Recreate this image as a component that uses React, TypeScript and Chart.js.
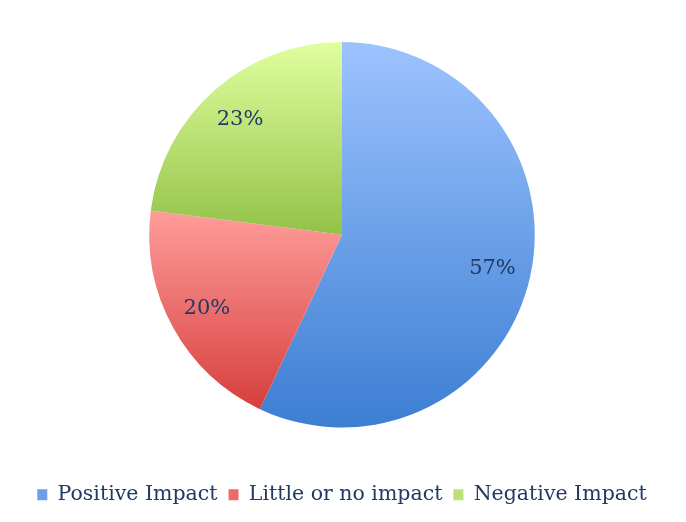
import React, { useEffect, useRef } from 'react';
import { Chart, ArcElement, PieController, Legend, Tooltip } from 'chart.js';

Chart.register(ArcElement, PieController, Legend, Tooltip);

const labels = ['Positive Impact', 'Little or no impact', 'Negative Impact'];
const values = [57, 20, 23];
// light (top) / dark (bottom) stops for each slice
const topColors = ['#9dc3ff', '#ff9d9b', '#e0ff9f'];
const bottomColors = ['#3c7ed2', '#d63f3d', '#93c248'];
const legendColors = ['#6d9ee6', '#ec6b69', '#bce176'];

const FONT = '"DejaVu Serif", "Liberation Serif", serif';
const TEXT = '#1f3a63';

// vertical gradient per slice, stretched over the slice's own height
const sliceGradients = {
    id: 'sliceGradients',
    beforeDatasetsDraw(chart: any) {
        const ctx = chart.ctx;
        chart.getDatasetMeta(0).data.forEach((arc: any, i: number) => {
            const { x, y, startAngle, endAngle, outerRadius } = arc.getProps(['x', 'y', 'startAngle', 'endAngle', 'outerRadius']);
            let top = y;
            let bottom = y;
            const check = (a: number) => {
                const py = y + outerRadius * Math.sin(a);
                top = Math.min(top, py);
                bottom = Math.max(bottom, py);
            };
            check(startAngle);
            check(endAngle);
            for (let k = -2; k <= 4; k++) {
                const a = -Math.PI / 2 + k * Math.PI;
                if (a > startAngle && a < endAngle) check(a);
            }
            const g = ctx.createLinearGradient(0, top, 0, bottom);
            g.addColorStop(0, topColors[i]);
            g.addColorStop(1, bottomColors[i]);
            arc.options.backgroundColor = g;
        });
    }
};

const sliceLabels = {
    id: 'sliceLabels',
    afterDatasetsDraw(chart: any) {
        const ctx = chart.ctx;
        const total = values.reduce((s, v) => s + v, 0);
        ctx.save();
        ctx.font = `21px ${FONT}`;
        ctx.fillStyle = TEXT;
        ctx.textAlign = 'center';
        ctx.textBaseline = 'middle';
        chart.getDatasetMeta(0).data.forEach((arc: any, i: number) => {
            const { x, y, startAngle, endAngle, outerRadius } = arc.getProps(['x', 'y', 'startAngle', 'endAngle', 'outerRadius']);
            const mid = (startAngle + endAngle) / 2;
            const r = outerRadius * 0.8;
            ctx.fillText(`${Math.round((values[i] / total) * 100)}%`, x + r * Math.cos(mid), y + r * Math.sin(mid));
        });
        ctx.restore();
    }
};

const App = () => {
    const chartRef = useRef<HTMLCanvasElement>(null);
    const chartInstance = useRef<Chart | null>(null);

    useEffect(() => {
        document.body.style.margin = '0';
        if (!chartRef.current) return;
        const ctx = chartRef.current.getContext('2d');
        if (!ctx) return;
        if (chartInstance.current) chartInstance.current.destroy();

        chartInstance.current = new Chart(ctx, {
            type: 'pie',
            data: {
                labels,
                datasets: [{
                    data: values,
                    backgroundColor: legendColors,
                    borderWidth: 0
                }]
            },
            options: {
                responsive: false,
                animation: false,
                layout: { padding: { top: 42, bottom: 7, left: 0, right: 2 } },
                plugins: {
                    legend: {
                        position: 'bottom',
                        title: {
                            display: true,
                            text: '',
                            font: { size: 10, lineHeight: 1 },
                            padding: { top: 36, bottom: 0 }
                        },
                        labels: {
                            boxWidth: 10,
                            boxHeight: 11,
                            padding: 11,
                            color: TEXT,
                            font: { family: FONT, size: 20.5 }
                        }
                    },
                    tooltip: { enabled: false }
                }
            },
            plugins: [sliceGradients, sliceLabels]
        });

        return () => {
            if (chartInstance.current) {
                chartInstance.current.destroy();
                chartInstance.current = null;
            }
        };
    }, []);

    return (
        <div style={{ width: 686, height: 522, background: '#fff' }}>
            <canvas ref={chartRef} width={686} height={522} style={{ display: 'block' }}></canvas>
        </div>
    );
};

export default App;
